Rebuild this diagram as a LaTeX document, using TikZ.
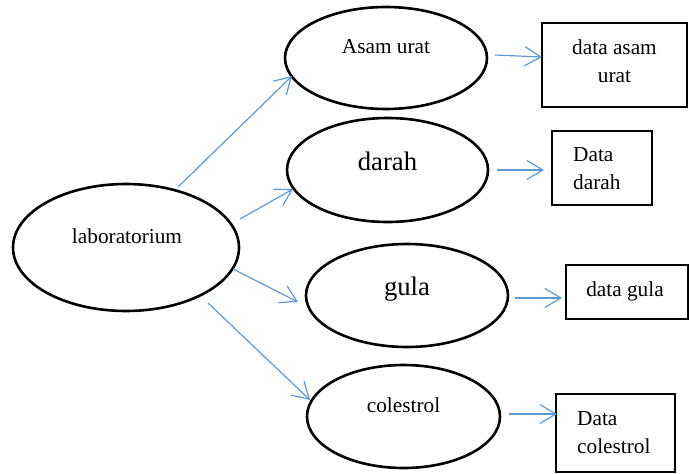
\documentclass[tikz,border=0pt]{standalone}
\usepackage{fontspec}
\setmainfont{Liberation Serif}
\usetikzlibrary{arrows.meta,shapes.geometric}
\definecolor{arrowblue}{HTML}{5B9BD5}
\begin{document}
\begin{tikzpicture}[x=1pt,y=-1pt,
  oval/.style={draw=black,line width=2.6pt,ellipse,inner sep=0pt},
  databox/.style={draw=black,line width=2.2pt,rectangle,inner sep=0pt},
  txt/.style={inner sep=0pt,font=\fontsize{21.3}{28}\selectfont},
  bigtxt/.style={inner sep=0pt,font=\fontsize{26.7}{32}\selectfont},
  flow/.style={draw=arrowblue,line width=1.2pt,-{Straight Barb[length=16pt,width=19pt,line width=1.2pt]}}]
\useasboundingbox (0,0) rectangle (691,474);
% ellipses
\node[oval,minimum width=226pt,minimum height=127pt] (lab) at (126,247.5) {};
\node[oval,minimum width=202pt,minimum height=102pt] (asam) at (386,58) {};
\node[oval,minimum width=201pt,minimum height=104pt] (darah) at (387.5,170) {};
\node[oval,minimum width=202pt,minimum height=103pt] (gula) at (407,295.5) {};
\node[oval,minimum width=193pt,minimum height=103pt] (col) at (403.5,416.5) {};
% ellipse texts
\node[txt,anchor=base] (tlab) at (127,243) {laboratorium};
\node[txt,anchor=base] (tasam) at (386,53) {Asam urat};
\node[bigtxt,anchor=base] (tdarah) at (387.5,170) {darah};
\node[bigtxt,anchor=base] (tgula) at (407,295) {gula};
\node[txt,anchor=base] (tcol) at (403.5,412) {colestrol};
% boxes
\node[databox,minimum width=145pt,minimum height=84pt] (b1) at (614.5,65) {};
\node[databox,minimum width=100pt,minimum height=74pt] (b2) at (602,168) {};
\node[databox,minimum width=122pt,minimum height=54pt] (b3) at (627,292) {};
\node[databox,minimum width=119pt,minimum height=78pt] (b4) at (615.5,433) {};
% box texts (base anchor = baseline of last line)
\node[txt,anchor=base,align=center] (tb1) at (614.5,82) {data asam\\urat};
\node[txt,anchor=base west,align=left] (tb2) at (573,189) {Data\\darah};
\node[txt,anchor=base] (tb3) at (625,296) {data gula};
\node[txt,anchor=base west,align=left] (tb4) at (577,453) {Data\\colestrol};
% connector end points
\coordinate (s1) at (178,187); \coordinate (e1) at (292,76);
\coordinate (s2) at (240,219); \coordinate (e2) at (293,189);
\coordinate (s3) at (233,269); \coordinate (e3) at (298,302);
\coordinate (s4) at (208,303); \coordinate (e4) at (310,400);
\coordinate (s5) at (495,55);  \coordinate (e5) at (542,57);
\coordinate (s6) at (497,170); \coordinate (e6) at (544,170);
\coordinate (s7) at (515,298); \coordinate (e7) at (562,298);
\coordinate (s8) at (509,414); \coordinate (e8) at (557,414);
\draw[flow] (s1) -- (e1);
\draw[flow] (s2) -- (e2);
\draw[flow] (s3) -- (e3);
\draw[flow] (s4) -- (e4);
\draw[flow] (s5) -- (e5);
\draw[flow] (s6) -- (e6);
\draw[flow] (s7) -- (e7);
\draw[flow] (s8) -- (e8);
\end{tikzpicture}
\end{document}
